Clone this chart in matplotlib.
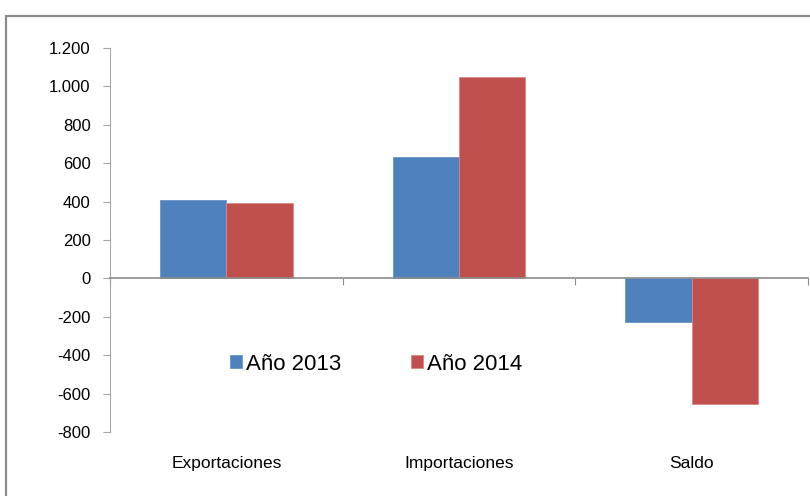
import matplotlib
matplotlib.use("Agg")
import matplotlib.pyplot as plt
from matplotlib.patches import Rectangle
import numpy as np

categories = ["Exportaciones", "Importaciones", "Saldo"]
series_names = ["Año 2013", "Año 2014"]
values_2013 = [408, 632, -225]
values_2014 = [391, 1049, -652]
yticks = [-800, -600, -400, -200, 0, 200, 400, 600, 800, 1000, 1200]
ytick_labels = ["-800", "-600", "-400", "-200", "0", "200", "400", "600", "800", "1.000", "1.200"]

plt.rcParams['font.family'] = ['Liberation Sans', 'DejaVu Sans']

W, H = 810, 496
fig = plt.figure(figsize=(W / 100, H / 100), dpi=100)

# outer chart frame
fig.patches.append(Rectangle((6 / W, -0.02), 1.0, 1 - 16 / H + 0.02, transform=fig.transFigure,
                             fill=False, edgecolor="#8c8c8c", linewidth=1.6))

left, right, top, bottom = 110, 808, 48, 432
ax = fig.add_axes([left / W, 1 - bottom / H, (right - left) / W, (bottom - top) / H])

x = np.arange(len(categories))
bw = 0.285
c1, c2 = "#4F81BD", "#C0504D"
ax.bar(x - bw / 2, values_2013, bw, color=c1, edgecolor="#6a95c9", linewidth=0.6, label=series_names[0])
ax.bar(x + bw / 2, values_2014, bw, color=c2, edgecolor="#d98a88", linewidth=0.6, label=series_names[1])

ax.set_xlim(-0.5, len(categories) - 0.5)
ax.set_ylim(-800, 1200)
ax.set_yticks(yticks)
ax.set_yticklabels(ytick_labels, fontsize=12)

for s in ["top", "right"]:
    ax.spines[s].set_visible(False)
ax.spines["left"].set_color("#a6a6a6")
ax.spines["bottom"].set_position(("data", 0))
ax.spines["bottom"].set_color("#8c8c8c")
ax.spines["bottom"].set_linewidth(1.2)
ax.tick_params(axis="y", length=5, color="#a6a6a6", pad=9)
ax.set_xticks(np.arange(len(categories) + 1) - 0.5)
ax.set_xticklabels([])
ax.tick_params(axis="x", length=5, color="#8c8c8c", direction="out")

for i, c in enumerate(categories):
    ax.text(i, -0.081, c, transform=ax.get_xaxis_transform(), ha="center", va="center", fontsize=12.5)

leg = fig.legend(loc="center", bbox_to_anchor=(376 / W, 1 - 364 / H), ncol=2, frameon=False,
                 fontsize=16, handlelength=0.55, handleheight=0.55, handletextpad=0.15,
                 columnspacing=3.15)

fig.savefig("out.png", dpi=100)
